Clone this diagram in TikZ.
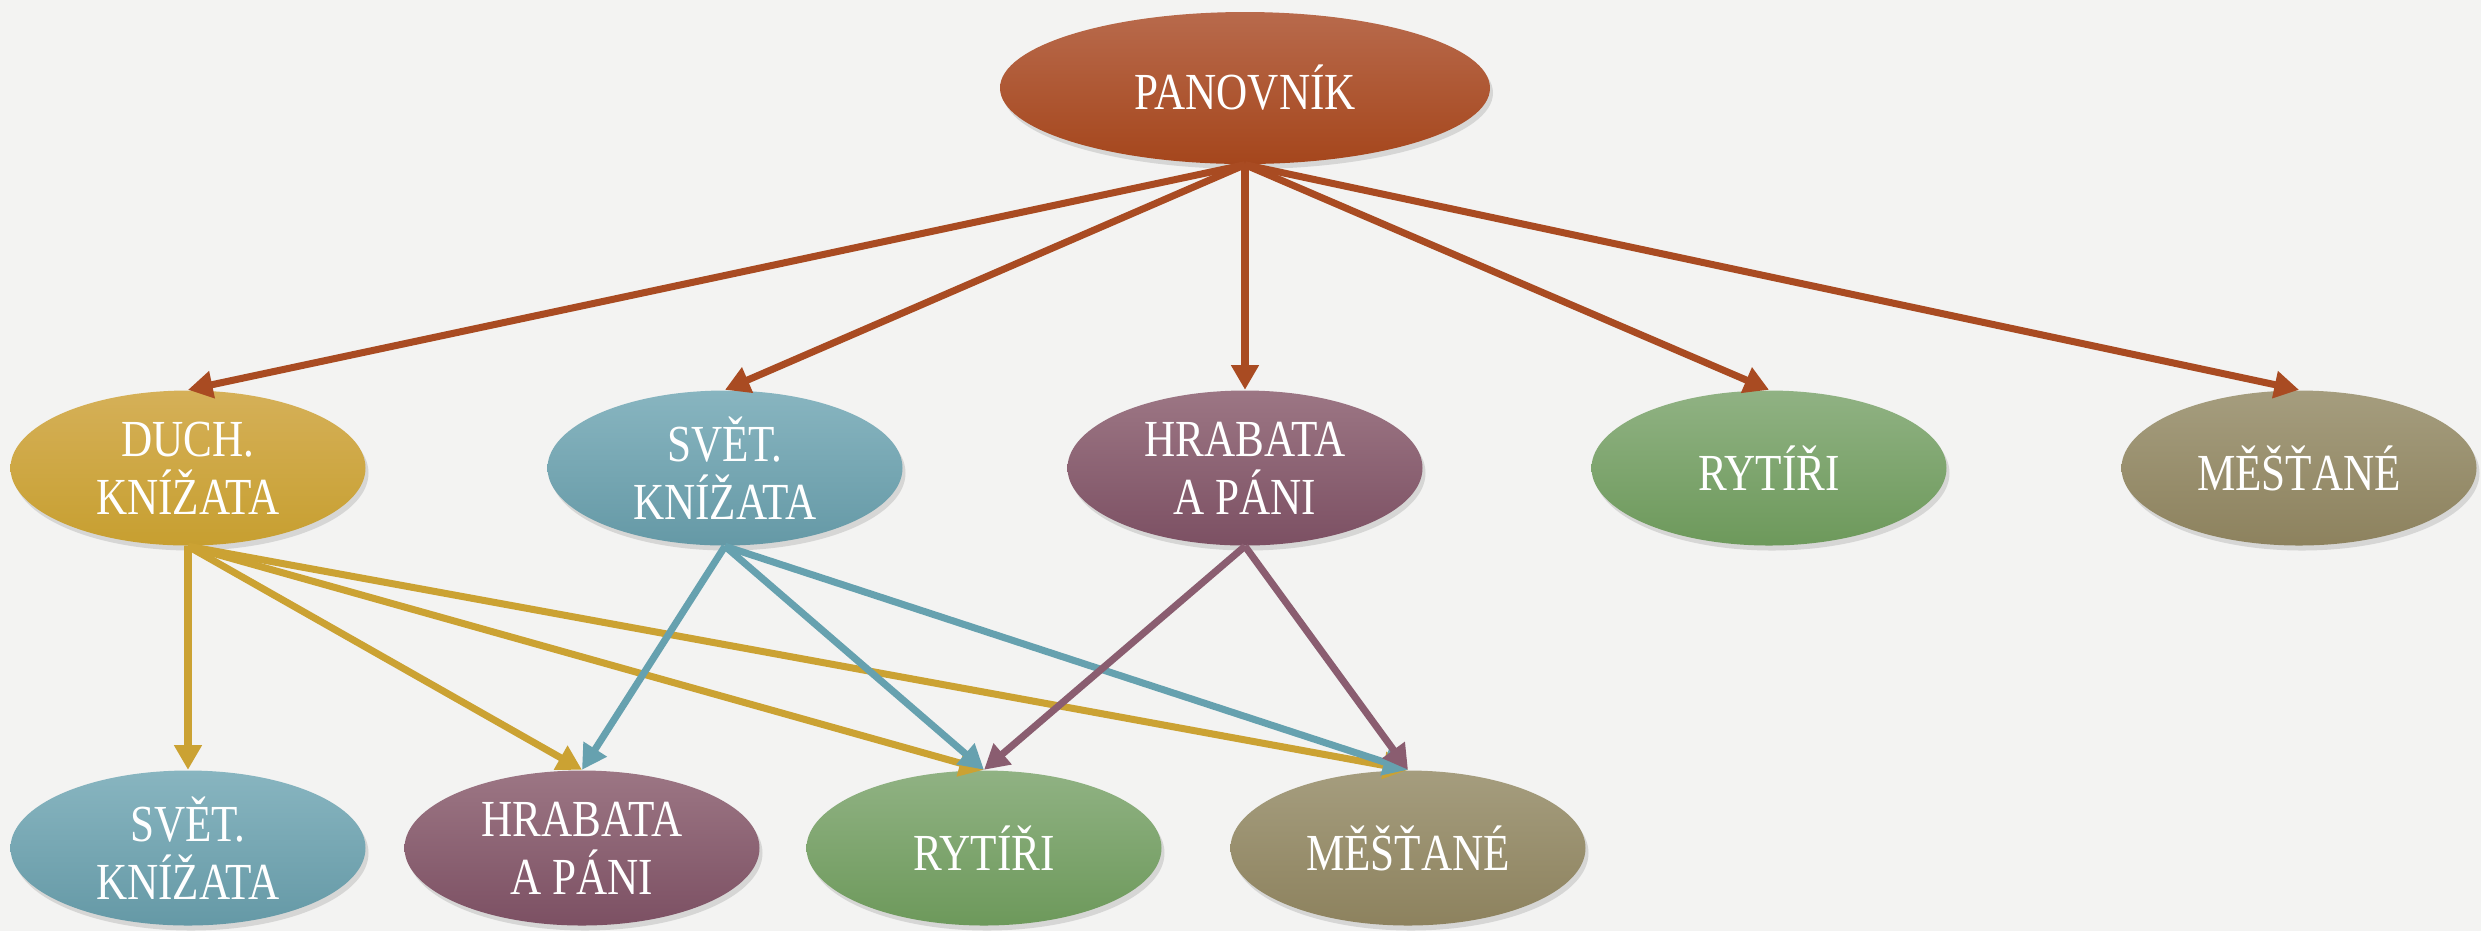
\documentclass[tikz,border=0pt]{standalone}
\usepackage{fontspec}
\setmainfont[FakeStretch=0.83]{Liberation Serif}
\usetikzlibrary{shapes.geometric,arrows.meta,shadows}
\definecolor{bgcol}{HTML}{F3F3F2}
\definecolor{pantop}{HTML}{B86A4C}
\definecolor{panbot}{HTML}{A5461C}
\definecolor{panarr}{HTML}{A94B22}
\definecolor{goldtop}{HTML}{D5B058}
\definecolor{goldbot}{HTML}{C79F30}
\definecolor{goldarr}{HTML}{CBA233}
\definecolor{tealtop}{HTML}{88B5C0}
\definecolor{tealbot}{HTML}{6599A6}
\definecolor{tealarr}{HTML}{66A1AF}
\definecolor{mauvetop}{HTML}{9C7684}
\definecolor{mauvebot}{HTML}{7C5063}
\definecolor{mauvearr}{HTML}{8A5D70}
\definecolor{greentop}{HTML}{90B283}
\definecolor{greenbot}{HTML}{6D995B}
\definecolor{olivetop}{HTML}{A59D7E}
\definecolor{olivebot}{HTML}{8D825E}

\tikzset{
  oval/.style={ellipse, minimum width=3.55cm, minimum height=1.55cm, inner sep=0pt,
    text=white, align=center, font=\fontsize{14.8}{16.6}\selectfont,
    drop shadow={opacity=0.25, shadow xshift=0.03cm, shadow yshift=-0.05cm}},
  arr/.style={line width=2pt, -{Triangle[length=7pt,width=7.5pt]}},
  goldn/.style={oval, top color=goldtop, bottom color=goldbot},
  tealn/.style={oval, top color=tealtop, bottom color=tealbot},
  mauven/.style={oval, top color=mauvetop, bottom color=mauvebot},
  greenn/.style={oval, top color=greentop, bottom color=greenbot},
  oliven/.style={oval, top color=olivetop, bottom color=olivebot},
}

\begin{document}
\begin{tikzpicture}

    \fill[bgcol] (0,0) rectangle (24.81,-9.31);
    \useasboundingbox (0,0) rectangle (24.81,-9.31);

    % top
    \node[oval, minimum width=4.9cm, minimum height=1.52cm, top color=pantop, bottom color=panbot]
        (pan) at (12.45,-0.88) {PANOVNÍK};

    % second row
    \node[goldn]  (duch) at (1.88,-4.68) {DUCH.\\KNÍŽATA};
    \node[tealn]  (svet) at (7.25,-4.68) {SVĚT.\\KNÍŽATA};
    \node[mauven] (hrab) at (12.45,-4.68) {HRABATA\\A PÁNI};
    \node[greenn] (ryt)  at (17.69,-4.68) {RYTÍŘI};
    \node[oliven] (mest) at (22.99,-4.68) {MĚŠŤANÉ};

    % third row
    \node[tealn]  (svetB) at (1.88,-8.48) {SVĚT.\\KNÍŽATA};
    \node[mauven] (hrabB) at (5.82,-8.48) {HRABATA\\A PÁNI};
    \node[greenn] (rytB)  at (9.84,-8.48) {RYTÍŘI};
    \node[oliven] (mestB) at (14.08,-8.48) {MĚŠŤANÉ};

    \foreach \t in {duch,svet,hrab,ryt,mest}
        \draw[arr,panarr] (pan.south) -- (\t.north);

    \foreach \t in {svetB,hrabB,rytB,mestB}
        \draw[arr,goldarr] (duch.south) -- (\t.north);

    \foreach \t in {hrabB,rytB,mestB}
        \draw[arr,tealarr] (svet.south) -- (\t.north);

    \foreach \t in {rytB,mestB}
        \draw[arr,mauvearr] (hrab.south) -- (\t.north);

\end{tikzpicture}
\end{document}
